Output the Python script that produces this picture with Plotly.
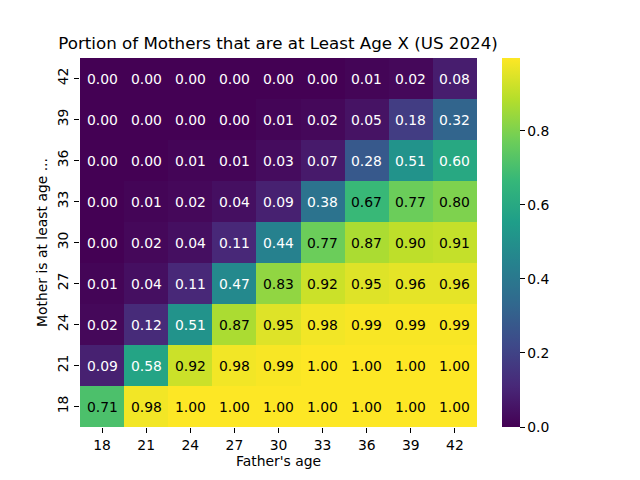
import plotly.graph_objects as go

father_ages = [18, 21, 24, 27, 30, 33, 36, 39, 42]
mother_ages = [18, 21, 24, 27, 30, 33, 36, 39, 42]

# rows: mother age 18 .. 42 (bottom to top)
row_18 = [0.71, 0.98, 1.00, 1.00, 1.00, 1.00, 1.00, 1.00, 1.00]
row_21 = [0.09, 0.58, 0.92, 0.98, 0.99, 1.00, 1.00, 1.00, 1.00]
row_24 = [0.02, 0.12, 0.51, 0.87, 0.95, 0.98, 0.99, 0.99, 0.99]
row_27 = [0.01, 0.04, 0.11, 0.47, 0.83, 0.92, 0.95, 0.96, 0.96]
row_30 = [0.00, 0.02, 0.04, 0.11, 0.44, 0.77, 0.87, 0.90, 0.91]
row_33 = [0.00, 0.01, 0.02, 0.04, 0.09, 0.38, 0.67, 0.77, 0.80]
row_36 = [0.00, 0.00, 0.01, 0.01, 0.03, 0.07, 0.28, 0.51, 0.60]
row_39 = [0.00, 0.00, 0.00, 0.00, 0.01, 0.02, 0.05, 0.18, 0.32]
row_42 = [0.00, 0.00, 0.00, 0.00, 0.00, 0.00, 0.01, 0.02, 0.08]

z = [row_18, row_21, row_24, row_27, row_30, row_33, row_36, row_39, row_42]

FS = 13.9

fig = go.Figure()
fig.add_trace(go.Heatmap(
    x=father_ages, y=mother_ages, z=z,
    colorscale="Viridis", zmin=0.0, zmax=0.997,
    colorbar=dict(
        x=1.063, xanchor="left", xref="paper", xpad=0,
        y=0, yanchor="bottom", len=1, lenmode="fraction", ypad=0,
        thickness=18, outlinewidth=0,
        tickvals=[0.0, 0.2, 0.4, 0.6, 0.8],
        ticktext=["0.0", "0.2", "0.4", "0.6", "0.8"],
        ticks="outside", ticklen=5, tickcolor="black",
        tickfont=dict(family="DejaVu Sans", size=FS, color="black"),
    ),
    hoverinfo="skip",
))

annotations = []
for i, yv in enumerate(mother_ages):
    for j, xv in enumerate(father_ages):
        v = z[i][j]
        annotations.append(dict(
            x=xv, y=yv, xref="x", yref="y", text=f"{v:.2f}",
            showarrow=False,
            font=dict(family="DejaVu Sans", size=FS,
                      color="black" if v >= 0.62 else "white"),
        ))

fig.update_layout(
    width=640, height=480,
    margin=dict(l=72, r=171, t=50, b=61),
    paper_bgcolor="white", plot_bgcolor="white",
    title=dict(text="Portion of Mothers that are at Least Age X (US 2024)",
               x=270 / 640, xanchor="center", y=1 - 35 / 480, yanchor="middle",
               font=dict(family="DejaVu Sans", size=16.7, color="black")),
    annotations=annotations,
    font=dict(family="DejaVu Sans", size=FS, color="black"),
)
fig.update_xaxes(
    title=dict(text="Father's age", font=dict(size=FS), standoff=2),
    range=[16.5, 43.5], tickvals=father_ages,
    ticks="outside", ticklen=5, tickcolor="black",
    showgrid=False, zeroline=False, showline=False,
    tickfont=dict(size=FS),
)
fig.update_yaxes(
    title=dict(text="Mother is at least age ...", font=dict(size=FS), standoff=4),
    range=[16.5, 43.5], tickvals=mother_ages,
    ticks="outside", ticklen=5, tickcolor="black",
    showgrid=False, zeroline=False, showline=False,
    tickangle=-90, tickfont=dict(size=FS),
)

fig.write_html("out.html")
